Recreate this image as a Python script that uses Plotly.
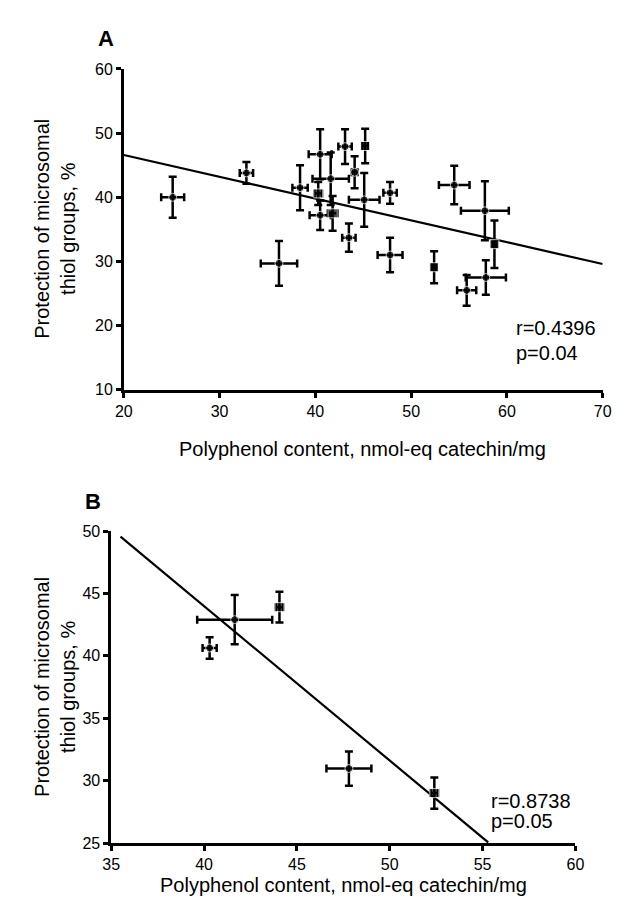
import plotly.graph_objects as go

W, H = 626, 898

# ---------------- Panel A data ----------------
xA = [25.1, 32.8, 36.2, 38.4, 40.5, 40.3, 40.5, 41.6, 41.8, 43.1, 45.2, 44.1, 45.1, 47.8, 43.5, 47.8, 52.4, 54.5, 57.7, 58.7, 57.8, 55.8]
yA = [40.0, 43.8, 29.7, 41.5, 46.7, 40.6, 37.2, 42.9, 37.5, 47.9, 48.0, 43.9, 39.6, 40.7, 33.7, 31.0, 29.1, 41.9, 37.9, 32.7, 27.5, 25.5]
exA = [1.2, 0.7, 1.9, 0.8, 1.2, 0.4, 1.1, 1.9, 0.5, 0.7, 0.3, 0.3, 1.6, 0.7, 0.7, 1.3, 0.2, 1.6, 2.5, 0.2, 2.1, 1.0]
eyA = [3.2, 1.7, 3.5, 3.5, 3.9, 1.8, 2.3, 4.1, 2.7, 2.7, 2.7, 2.5, 4.2, 1.7, 2.2, 2.7, 2.5, 3.0, 4.6, 3.7, 2.7, 2.4]
symA = ["circle", "circle", "circle", "circle", "circle", "square", "circle", "circle", "square", "circle", "square",
        "circle", "circle", "circle", "circle", "circle", "square", "circle", "circle", "square", "circle", "circle"]
fitA_x = [20, 70]
fitA_y = [46.6, 29.6]
statsA = ["r=0.4396", "p=0.04"]

# ---------------- Panel B data ----------------
xB = [40.3, 41.65, 44.06, 47.8, 52.4]
yB = [40.63, 42.9, 43.9, 30.97, 29.0]
exB = [0.38, 2.02, 0.2, 1.21, 0.2]
eyB = [0.87, 1.97, 1.23, 1.37, 1.26]
symB = ["circle", "circle", "square", "circle", "square"]
fitB_x = [35.5, 55.3]
fitB_y = [49.55, 25.05]
statsB = ["r=0.8738", "p=0.05"]

xtitle = "Polyphenol content, nmol-eq catechin/mg"
ytitle = "Protection of microsomal<br>thiol groups, %"

FONT = "Liberation Sans, Arial, sans-serif"

def px_x(p):
    return p / W

def px_y(p):
    return 1 - p / H

fig = go.Figure()

def add_panel(xs, ys, ex, ey, syms, fx, fy, xa, ya):
    fig.add_trace(go.Scatter(x=fx, y=fy, mode="lines", line=dict(color="black", width=2.2),
                             xaxis=xa, yaxis=ya, showlegend=False, hoverinfo="skip"))
    fig.add_trace(go.Scatter(
        x=xs, y=ys, mode="markers",
        marker=dict(color="black", size=[8 if s == "circle" else 9 for s in syms], symbol=syms),
        error_x=dict(type="data", array=ex, visible=True, color="black", thickness=2.5, width=4),
        error_y=dict(type="data", array=ey, visible=True, color="black", thickness=2.5, width=4),
        xaxis=xa, yaxis=ya, showlegend=False, cliponaxis=False))

add_panel(xA, yA, exA, eyA, symA, fitA_x, fitA_y, "x", "y")
add_panel(xB, yB, exB, eyB, symB, fitB_x, fitB_y, "x2", "y2")

axis_common = dict(showline=True, linecolor="black", linewidth=2.5, ticks="outside", ticklen=5,
                   tickwidth=2.5, tickcolor="black", showgrid=False, zeroline=False,
                   tickfont=dict(family=FONT, size=16, color="black"), fixedrange=True)

fig.update_layout(
    width=W, height=H, margin=dict(l=0, r=0, t=0, b=0),
    paper_bgcolor="white", plot_bgcolor="white",
    xaxis=dict(domain=[px_x(110), px_x(603)], range=[20, 70], dtick=10, tick0=20, anchor="y", **axis_common),
    yaxis=dict(domain=[px_y(381), px_y(54)], range=[10, 60], dtick=10, tick0=10, anchor="x", **axis_common),
    xaxis2=dict(domain=[px_x(97), px_x(575)], range=[35, 60], dtick=5, tick0=35, anchor="y2", **axis_common),
    yaxis2=dict(domain=[px_y(843), px_y(525)], range=[25, 50], dtick=5, tick0=25, anchor="x2", **axis_common),
)

ann = []
def text(x, y, s, size=20, bold=False, angle=0, xanchor="center", yanchor="middle"):
    ann.append(dict(x=px_x(x), y=px_y(y), xref="paper", yref="paper", text=("<b>%s</b>" % s) if bold else s,
                    showarrow=False, textangle=angle, xanchor=xanchor, yanchor=yanchor,
                    font=dict(family=FONT, size=size, color="black")))

text(91.5, 22.5, "A", size=22, bold=True)
text(78.5, 495, "B", size=22, bold=True)
text(356, 441, xtitle)
text(336, 886, xtitle)
text(39, 217, ytitle, angle=-90)
text(39, 684, ytitle, angle=-90)
text(512, 318, statsA[0], xanchor="left")
text(512, 343, statsA[1], xanchor="left")
text(486, 800, statsB[0], xanchor="left")
text(486, 821, statsB[1], xanchor="left")

fig.update_layout(annotations=ann)
fig.write_html("out.html")
